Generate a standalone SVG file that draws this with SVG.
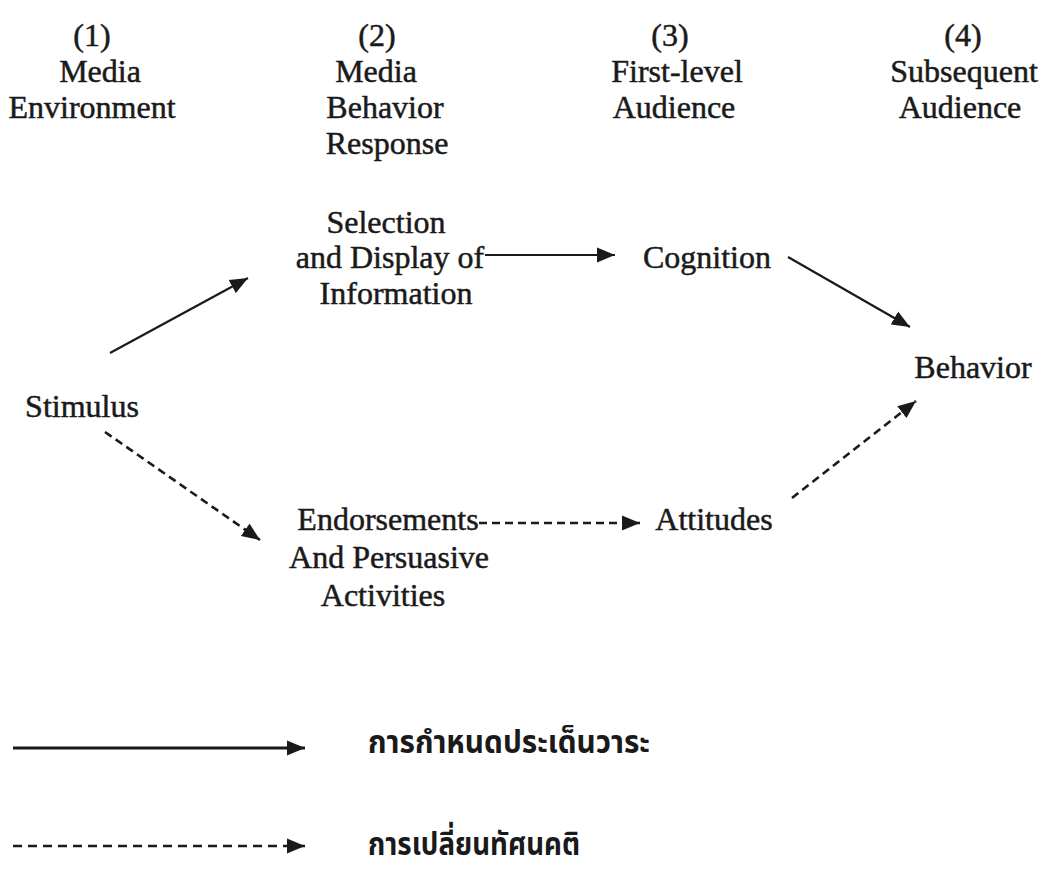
<svg xmlns="http://www.w3.org/2000/svg" width="1052" height="870" viewBox="0 0 1052 870">
<defs>
<style>
text{font-family:"Liberation Serif","Times New Roman",serif;font-size:32px;fill:#1a1a1a;stroke:#1a1a1a;stroke-width:0.5;text-anchor:middle}
.th{font-family:"Noto Sans Thai","Noto Sans","DejaVu Sans",sans-serif;font-size:32px;font-weight:bold;stroke-width:0;text-anchor:start}
.c{stroke:#1a1a1a;stroke-width:2.2;fill:none}
.d{stroke-dasharray:8 5;stroke-width:2.6}
.ld{stroke-dasharray:9 6;stroke-width:2.6}
.lg{stroke-width:3}
</style>
<marker id="ah" markerUnits="userSpaceOnUse" markerWidth="19" markerHeight="16" refX="18" refY="7.5" orient="auto" viewBox="0 0 19 15">
<path d="M0,0 L18,7.5 L0,15 z" fill="#1a1a1a"/>
</marker>
</defs>
<rect width="1052" height="870" fill="#ffffff"/>
<g id="header1"><text x="92" y="46">(1)</text><text x="100" y="82">Media</text><text x="92" y="118">Environment</text></g>
<g id="header2"><text x="377" y="46">(2)</text><text x="376" y="82">Media</text><text x="385" y="118">Behavior</text><text x="387" y="154">Response</text></g>
<g id="header3"><text x="670" y="46">(3)</text><text x="677" y="82">First-level</text><text x="674" y="118">Audience</text></g>
<g id="header4"><text x="963" y="46">(4)</text><text x="964" y="82">Subsequent</text><text x="960" y="118">Audience</text></g>
<g id="stimulus"><text x="82" y="417">Stimulus</text></g>
<g id="selection"><text x="386" y="233">Selection</text><text x="390" y="268">and Display of</text><text x="396" y="304">Information</text></g>
<g id="cognition"><text x="707" y="268">Cognition</text></g>
<g id="behavior"><text x="973" y="378">Behavior</text></g>
<g id="endorsements"><text x="388" y="530">Endorsements</text><text x="389" y="568">And Persuasive</text><text x="383" y="606">Activities</text></g>
<g id="attitudes"><text x="714" y="530">Attitudes</text></g>
<g id="connectors">
<line class="c" x1="110" y1="353" x2="248" y2="278" marker-end="url(#ah)"/>
<line class="c" x1="485" y1="255" x2="615" y2="255" marker-end="url(#ah)"/>
<line class="c" x1="788" y1="257" x2="910" y2="327" marker-end="url(#ah)"/>
<line class="c d" x1="105" y1="432" x2="260" y2="540" marker-end="url(#ah)"/>
<line class="c d" x1="479" y1="523" x2="640" y2="523" marker-end="url(#ah)"/>
<line class="c d" x1="792" y1="498" x2="916" y2="401" marker-end="url(#ah)"/>
</g>
<g id="legend">
<line class="c lg" x1="13" y1="748" x2="305" y2="748" marker-end="url(#ah)"/>
<line class="c ld" x1="13" y1="846" x2="305" y2="846" marker-end="url(#ah)"/>
<text class="th" x="368" y="753" textLength="282" lengthAdjust="spacingAndGlyphs">การกำหนดประเด็นวาระ</text>
<text class="th" x="368" y="855" textLength="212" lengthAdjust="spacingAndGlyphs">การเปลี่ยนทัศนคติ</text>
</g>
</svg>
